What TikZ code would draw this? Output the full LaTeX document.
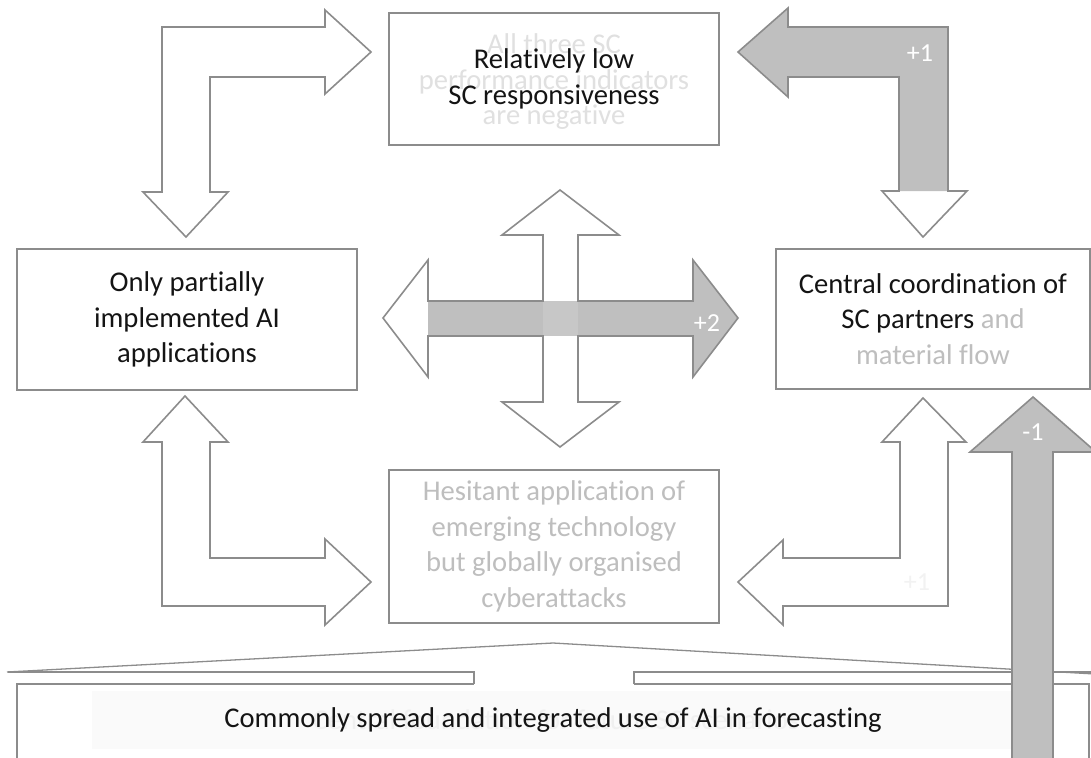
\documentclass[tikz,border=0pt]{standalone}
\usepackage{fontspec}
\setmainfont{Carlito}[Ligatures=NoCommon]
\definecolor{lineg}{HTML}{8C8C8C}
\definecolor{fillg}{HTML}{BFBFBF}
\definecolor{ghost}{HTML}{E0E0E0}
\definecolor{softtxt}{HTML}{BEBEBE}
\definecolor{band}{HTML}{FAFAFA}
\begin{document}
\begin{tikzpicture}[x=1pt,y=-1pt,
  outl/.style={draw=lineg, line width=1.6pt, line join=miter},
  box/.style={outl, fill=white, inner sep=0pt},
  txt/.style={font=\fontsize{28.6}{35.5}\selectfont, align=center, text=black!92, inner sep=0pt},
  lbl/.style={font=\fontsize{26}{30}\selectfont, text=white, inner sep=0pt},
]
\useasboundingbox (0,0) rectangle (1091,757);
\clip (0,0) rectangle (1091,757);

% ---- boxes ----
\node[box, minimum width=330pt, minimum height=132pt] (topbox) at (554,79) {};
\node[txt, text=ghost] (topghost) at (554,82) {All three SC\\performance indicators\\are negative};
\node[txt] (toptext) at (554,79) {Relatively low\\SC responsiveness};

\node[box, minimum width=340pt, minimum height=141pt] (leftbox) at (187,319.5) {};
\node[txt] (lefttext) at (leftbox.center) {Only partially\\implemented AI\\applications};

\node[box, minimum width=314pt, minimum height=140pt] (rightbox) at (933,319) {};
\node[txt] (righttext) at (rightbox.center) {Central coordination of\\SC partners \textcolor{softtxt}{and}\\\textcolor{softtxt}{material flow}};

\node[box, minimum width=330pt, minimum height=153pt] (botbox) at (554,546.5) {};
\node[txt, text=softtxt] (bottext) at (botbox.center) {Hesitant application of\\emerging technology\\but globally organised\\cyberattacks};

% ---- top-left bent arrow ----
\draw[outl, fill=white] (162,192) -- (162,27) -- (325,27) -- (325,10) -- (371,52) -- (325,94)
  -- (325,77) -- (210,77) -- (210,192) -- (228,192) -- (186,237) -- (143,192) -- cycle;

% ---- bottom-left bent arrow ----
\draw[outl, fill=white] (162,442) -- (143,442) -- (185,396) -- (228,442) -- (210,442) -- (210,558)
  -- (325,558) -- (325,539) -- (371,582) -- (325,625) -- (325,606) -- (162,606) -- cycle;

% ---- top-right bent arrow (+1) ----
\fill[fillg] (738,52) -- (788,8) -- (788,27) -- (948,27) -- (948,191) -- (899,191) -- (899,77)
  -- (788,77) -- (788,97) -- cycle;
\draw[outl] (738,52) -- (788,8) -- (788,27) -- (948,27) -- (948,191) -- (967,191) -- (923,237)
  -- (882,191) -- (899,191) -- (899,77) -- (788,77) -- (788,97) -- cycle;
\node[lbl] (plusone) at (920,53) {+1};

% ---- central cross (+2) ----
\fill[fillg] (428,301) rectangle (693,336);
\fill[fillg] (693,260) -- (738,318) -- (693,377) -- cycle;
\fill[fillg!88!white] (543,301) rectangle (578,336);
\draw[outl] (383,318) -- (428,260) -- (428,301) -- (543,301) -- (543,235) -- (502,235) -- (560,190)
  -- (619,235) -- (578,235) -- (578,301) -- (693,301) -- (693,260) -- (738,318) -- (693,377)
  -- (693,336) -- (578,336) -- (578,402) -- (619,402) -- (560,447) -- (502,402) -- (543,402)
  -- (543,336) -- (428,336) -- (428,377) -- cycle;
\node[lbl] (plustwo) at (707,323) {+2};

% ---- bottom-right bent arrow ----
\draw[outl, fill=white] (738,582) -- (783,540) -- (783,558) -- (900,558) -- (900,442) -- (882,442)
  -- (923,398) -- (966,442) -- (948,442) -- (948,606) -- (783,606) -- (783,625) -- cycle;
\node[lbl, text=black!5] (plusonelow) at (917,582) {+1};

% ---- base panel with pointer ----
\fill[band] (92,691) rectangle (1012,749);
\draw[outl, line width=1.3pt] (17,770) -- (17,684) -- (474,684);
\draw[outl, line width=1.3pt] (634,684) -- (1089,684) -- (1089,770);
\draw[outl, line width=1.3pt] (8,672) -- (474,672) -- (474,684);
\draw[outl, line width=1.3pt] (634,684) -- (634,672) -- (1095,672);
\draw[outl, line width=1.3pt] (7,672) -- (553,643) -- (1095,674);
\node[txt, text=black!6] (baseghost) at (556,720) {Central foundation for future SC scenarios};
\node[txt] (basetext) at (553,720) {Commonly spread and integrated use of AI in forecasting};

% ---- upward arrow (-1) ----
\draw[outl, fill=fillg] (1012,770) -- (1012,452) -- (970,452) -- (1033,397) -- (1096,452)
  -- (1053,452) -- (1053,770) -- cycle;
\node[lbl] (minusone) at (1033,432) {-1};
\end{tikzpicture}
\end{document}
